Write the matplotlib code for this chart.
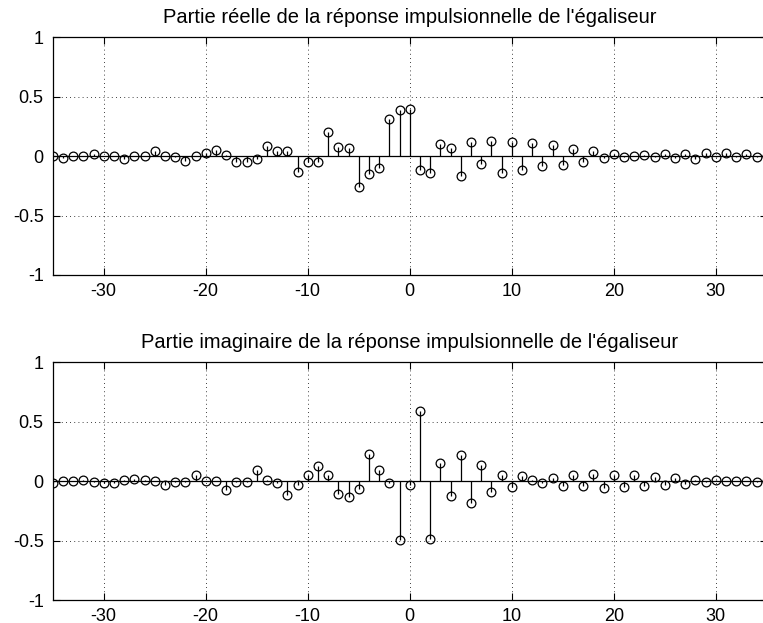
import matplotlib

matplotlib.use("Agg")
import matplotlib.pyplot as plt
import numpy as np

plt.rcParams["font.family"] = ["Liberation Sans", "DejaVu Sans"]

# Taps of the equalizer, n = -35 .. 35
n = np.arange(-35, 36)

h_real = [
    0.0, -0.017, 0.0, 0.005, 0.02, 0.0, 0.005, -0.028, 0.0, 0.005,
    0.04, 0.005, -0.01, -0.04, 0.0, 0.025, 0.05, 0.01, -0.05, -0.05,
    -0.02, 0.087, 0.045, 0.04, -0.135, -0.045, -0.045, 0.2, 0.073, 0.068,
    -0.26, -0.146, -0.096, 0.315, 0.386, 0.4, -0.118, -0.144, 0.1, 0.068,
    -0.163, 0.12, -0.068, 0.127, -0.14, 0.118, -0.115, 0.113, -0.085, 0.093,
    -0.076, 0.06, -0.045, 0.04, -0.017, 0.017, -0.008, 0.0, 0.008, -0.006,
    0.014, -0.017, 0.017, -0.02, 0.025, -0.011, 0.025, -0.011, 0.014, -0.008,
    0.0,
]

h_imag = [
    -0.014, 0.0, 0.0, 0.011, -0.011, -0.014, -0.017, 0.006, 0.017, 0.014,
    0.0, -0.03, -0.011, -0.008, 0.053, 0.003, 0.003, -0.073, -0.008, -0.006,
    0.098, 0.014, -0.012, -0.118, -0.028, 0.048, 0.13, 0.053, -0.11, -0.13,
    -0.065, 0.228, 0.096, -0.014, -0.497, -0.028, 0.593, -0.483, 0.157, -0.124,
    0.219, -0.183, 0.14, -0.093, 0.05, -0.048, 0.042, 0.006, -0.017, 0.025,
    -0.042, 0.048, -0.042, 0.059, -0.059, 0.048, -0.05, 0.048, -0.037, 0.039,
    -0.034, 0.025, -0.02, 0.014, -0.006, 0.006, 0.0, 0.0, 0.0, -0.008,
    0.0,
]

titles = [
    "Partie réelle de la réponse impulsionnelle de l'égaliseur",
    "Partie imaginaire de la réponse impulsionnelle de l'égaliseur",
]
x_ticks = [-30, -20, -10, 0, 10, 20, 30]
y_ticks = [-1, -0.5, 0, 0.5, 1]
y_labels = ["-1", "-0.5", "0", "0.5", "1"]

fig = plt.figure(figsize=(7.63, 6.23), dpi=100)
# right edge runs slightly past the canvas, as in the original export
positions = [
    [0.0691, 0.5586, 0.9358, 0.3815],
    [0.0691, 0.0369, 0.9358, 0.3815],
]

for pos, data, title in zip(positions, (h_real, h_imag), titles):
    ax = fig.add_axes(pos)
    markerline, stemlines, baseline = ax.stem(n, data, basefmt="k-")
    plt.setp(stemlines, color="black", linewidth=0.9)
    plt.setp(
        markerline,
        marker="o",
        markersize=6.3,
        markerfacecolor="none",
        markeredgecolor="black",
        markeredgewidth=0.9,
    )
    plt.setp(baseline, color="black", linewidth=0.9)
    ax.set_xlim(-35, 35)
    ax.set_ylim(-1, 1)
    ax.set_xticks(x_ticks)
    ax.set_xticklabels([str(t) for t in x_ticks])
    ax.set_yticks(y_ticks)
    ax.set_yticklabels(y_labels)
    ax.grid(True, linestyle=(0, (1, 4)), color="black", linewidth=0.6)
    ax.tick_params(
        direction="in", length=5, width=0.8, top=True, right=True,
        labelsize=13,
    )
    ax.tick_params(axis="x", pad=5.8)
    ax.tick_params(axis="y", pad=6.5)
    for spine in ax.spines.values():
        spine.set_linewidth(0.9)
    ax.set_title(title, fontsize=14.5, pad=10)

fig.savefig("out.png", dpi=100)
